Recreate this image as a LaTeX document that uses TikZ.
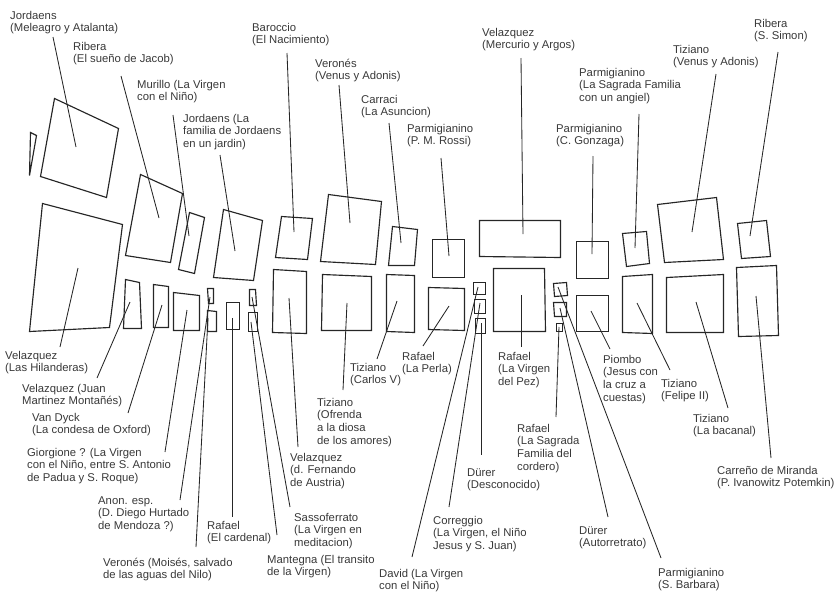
\documentclass[tikz,border=0pt]{standalone}
\usepackage{fontspec}
\setmainfont{Liberation Sans}
\definecolor{ink}{HTML}{262626}
\definecolor{txt}{HTML}{383838}
\begin{document}
\begin{tikzpicture}[x=1pt,y=-1pt,
  paint/.style={draw=ink, line width=1.15pt, line join=miter, shift={(0.5,0.5)}},
  leader/.style={draw=ink, line width=0.85pt, shift={(0.5,0.5)}},
  lbl/.style={anchor=north west, inner sep=0pt, align=left, text=txt,
              font=\fontsize{11.3}{12.8}\selectfont}]
\useasboundingbox (0,0) rectangle (835,592);

% ---------- paintings, upper row ----------
\draw[paint] (54,98) -- (118,128) -- (106,197) -- (40,176) -- cycle;      % A
\draw[paint] (30,132) -- (36,135) -- (29,175) -- cycle;                   % sliver
\draw[paint] (140,174) -- (182,193) -- (170,262) -- (125,255) -- cycle;   % B
\draw[paint] (189,212) -- (204,217) -- (194,273) -- (178,269) -- cycle;   % C
\draw[paint] (223,209) -- (262,220) -- (253,280) -- (213,277) -- cycle;   % D
\draw[paint] (281,216) -- (312,218) -- (307,259) -- (275,257) -- cycle;   % E
\draw[paint] (328,194) -- (381,201) -- (375,264) -- (320,261) -- cycle;   % F
\draw[paint] (392,226) -- (417,229) -- (414,265) -- (388,265) -- cycle;   % G
\draw[paint] (432,239) -- (464,239) -- (464,277) -- (432,277) -- cycle;   % H
\draw[paint] (479,220) -- (560,220) -- (560,257) -- (479,256) -- cycle;   % I
\draw[paint] (576,241) -- (608,241) -- (608,278) -- (576,278) -- cycle;   % J
\draw[paint] (622,233) -- (646,231) -- (649,263) -- (626,266) -- cycle;   % K
\draw[paint] (657,204) -- (716,197) -- (723,259) -- (664,262) -- cycle;   % L
\draw[paint] (737,223) -- (766,220) -- (770,256) -- (741,258) -- cycle;   % M

% ---------- paintings, lower row ----------
\draw[paint] (42,203) -- (122,224) -- (109,327) -- (29,331) -- cycle;     % N
\draw[paint] (125,279) -- (139,282) -- (141,328) -- (123,328) -- cycle;   % O
\draw[paint] (153,284) -- (168,286) -- (168,327) -- (153,327) -- cycle;   % P
\draw[paint] (173,292) -- (199,295) -- (199,330) -- (173,330) -- cycle;   % Q
\draw[paint] (207,288) -- (213,288) -- (213,303) -- (208,303) -- cycle;   % R1
\draw[paint] (207,310) -- (216,311) -- (216,331) -- (207,331) -- cycle;   % R2
\draw[paint] (226,302) -- (239,302) -- (239,329) -- (226,329) -- cycle;   % S
\draw[paint] (249,289) -- (255,289) -- (256,305) -- (249,305) -- cycle;   % U1
\draw[paint] (248,312) -- (257,312) -- (257,331) -- (248,331) -- cycle;   % U2
\draw[paint] (273,269) -- (306,271) -- (306,333) -- (272,332) -- cycle;   % V
\draw[paint] (322,274) -- (371,276) -- (371,330) -- (321,330) -- cycle;   % W
\draw[paint] (386,274) -- (414,275) -- (414,332) -- (386,331) -- cycle;   % X
\draw[paint] (428,287) -- (464,288) -- (464,330) -- (428,329) -- cycle;   % Y
\draw[paint] (473,282) -- (485,282) -- (485,294) -- (473,294) -- cycle;   % Z1
\draw[paint] (474,299) -- (485,299) -- (485,313) -- (474,313) -- cycle;   % Z2
\draw[paint] (475,318) -- (485,318) -- (485,333) -- (475,333) -- cycle;   % Z3
\draw[paint] (493,268) -- (544,268) -- (545,331) -- (493,331) -- cycle;   % AA
\draw[paint] (553,283) -- (566,282) -- (567,295) -- (554,296) -- cycle;   % BB1
\draw[paint] (553,302) -- (566,302) -- (566,316) -- (554,316) -- cycle;   % BB2
\draw[paint] (556,323) -- (562,323) -- (562,331) -- (556,331) -- cycle;   % BB3
\draw[paint] (576,295) -- (608,295) -- (608,331) -- (576,331) -- cycle;   % CC
\draw[paint] (622,276) -- (652,274) -- (652,333) -- (622,332) -- cycle;   % DD
\draw[paint] (666,277) -- (723,274) -- (723,332) -- (666,332) -- cycle;   % EE
\draw[paint] (736,267) -- (776,265) -- (778,335) -- (738,336) -- cycle;   % FF

% ---------- labels ----------
\node[lbl] (tA) at (10,10) {\strut Jordaens\\(Meleagro y Atalanta)};
\node[lbl] (tB) at (73,41) {\strut Ribera\\(El sueño de Jacob)};
\node[lbl] (tC) at (137,79) {\strut Murillo (La Virgen\\con el Niño)};
\node[lbl] (tD) at (183,113) {\strut Jordaens (La\\familia de Jordaens\\en un jardin)};
\node[lbl] (tE) at (252,22) {\strut Baroccio\\(El Nacimiento)};
\node[lbl] (tF) at (315,58) {\strut Veronés\\(Venus y Adonis)};
\node[lbl] (tG) at (361,94) {\strut Carraci\\(La Asuncion)};
\node[lbl] (tH) at (407,123) {\strut Parmigianino\\(P. M. Rossi)};
\node[lbl] (tI) at (482,27) {\strut Velazquez\\(Mercurio y Argos)};
\node[lbl] (tK) at (579,67) {\strut Parmigianino\\(La Sagrada Familia\\con un angiel)};
\node[lbl] (tJ) at (556,123) {\strut Parmigianino\\(C. Gonzaga)};
\node[lbl] (tL) at (673,44) {\strut Tiziano\\(Venus y Adonis)};
\node[lbl] (tM) at (754,18) {\strut Ribera\\(S. Simon)};

\node[lbl] (tN) at (5,350) {\strut Velazquez\\(Las Hilanderas)};
\node[lbl] (tO) at (22,383) {\strut Velazquez (Juan\\Martinez Montañés)};
\node[lbl] (tP) at (32,412) {\strut Van Dyck\\(La condesa de Oxford)};
\node[lbl] (tQ) at (27,447) {\strut Giorgione ? (La Virgen\\con el Niño, entre S. Antonio\\de Padua y S. Roque)};
\node[lbl] (tR1) at (98,495) {\strut Anon. esp.\\(D. Diego Hurtado\\de Mendoza ?)};
\node[lbl] (tS) at (207,520) {\strut Rafael\\(El cardenal)};
\node[lbl] (tR2) at (103,557) {\strut Veronés (Moisés, salvado\\de las aguas del Nilo)};
\node[lbl] (tU2) at (267,554) {\strut Mantegna (El transito\\de la Virgen)};
\node[lbl] (tU1) at (294,512) {\strut Sassoferrato\\(La Virgen en\\meditacion)};
\node[lbl] (tV) at (290,452) {\strut Velazquez\\(d. Fernando\\de Austria)};
\node[lbl] (tW) at (317,397) {\strut Tiziano\\(Ofrenda\\a la diosa\\de los amores)};
\node[lbl] (tX) at (350,362) {\strut Tiziano\\(Carlos V)};
\node[lbl] (tY) at (402,351) {\strut Rafael\\(La Perla)};
\node[lbl] (tAA) at (498,351) {\strut Rafael\\(La Virgen\\del Pez)};
\node[lbl] (tZ3) at (467,467) {\strut Dürer\\(Desconocido)};
\node[lbl] (tZ2) at (433,515) {\strut Correggio\\(La Virgen, el Niño\\Jesus y S. Juan)};
\node[lbl] (tZ1) at (379,568) {\strut David (La Virgen\\con el Niño)};
\node[lbl] (tBB3) at (517,423) {\strut Rafael\\(La Sagrada\\Familia del\\cordero)};
\node[lbl] (tCC) at (603,354) {\strut Piombo\\(Jesus con\\la cruz a\\cuestas)};
\node[lbl] (tDD) at (661,378) {\strut Tiziano\\(Felipe II)};
\node[lbl] (tEE) at (693,413) {\strut Tiziano\\(La bacanal)};
\node[lbl] (tFF) at (717,465) {\strut Carreño de Miranda\\(P. Ivanowitz Potemkin)};
\node[lbl] (tBB2) at (579,525) {\strut Dürer\\(Autorretrato)};
\node[lbl] (tBB1) at (658,567) {\strut Parmigianino\\(S. Barbara)};

% ---------- leader end points ----------
\coordinate (pA) at (76,147);   \coordinate (qA) at (53,37);
\coordinate (pB) at (159,218);  \coordinate (qB) at (121,76);
\coordinate (pC) at (189,236);  \coordinate (qC) at (173,115);
\coordinate (pD) at (235,251);  \coordinate (qD) at (220,155);
\coordinate (pE) at (294,232);  \coordinate (qE) at (287,53);
\coordinate (pF) at (350,223);  \coordinate (qF) at (339,85);
\coordinate (pG) at (401,243);  \coordinate (qG) at (389,123);
\coordinate (pH) at (449,256);  \coordinate (qH) at (441,158);
\coordinate (pI) at (523,234);  \coordinate (qI) at (521,58);
\coordinate (pJ) at (592,254);  \coordinate (qJ) at (593,156);
\coordinate (pK) at (635,248);  \coordinate (qK) at (639,114);
\coordinate (pL) at (692,232);  \coordinate (qL) at (716,74);
\coordinate (pM) at (750,236);  \coordinate (qM) at (778,52);
\coordinate (pN) at (78,268);   \coordinate (qN) at (60,347);
\coordinate (pO) at (130,302);  \coordinate (qO) at (97,378);
\coordinate (pP) at (162,305);  \coordinate (qP) at (128,413);
\coordinate (pQ) at (187,310);  \coordinate (qQ) at (165,452);
\coordinate (pR1) at (210,297); \coordinate (qR1) at (180,500);
\coordinate (pR2) at (208,318); \coordinate (qR2) at (196,547);
\coordinate (pS) at (232,318);  \coordinate (qS) at (232,517);
\coordinate (pU1) at (252,297); \coordinate (qU1) at (290,507);
\coordinate (pU2) at (251,322); \coordinate (qU2) at (277,535);
\coordinate (pV) at (289,298);  \coordinate (qV) at (298,447);
\coordinate (pW) at (347,303);  \coordinate (qW) at (343,390);
\coordinate (pX) at (397,301);  \coordinate (qX) at (377,359);
\coordinate (pY) at (449,306);  \coordinate (qY) at (423,346);
\coordinate (pZ1) at (478,287); \coordinate (qZ1) at (412,557);
\coordinate (pZ2) at (480,303); \coordinate (qZ2) at (449,507);
\coordinate (pZ3) at (481,323); \coordinate (qZ3) at (481,455);
\coordinate (pAA) at (521,295); \coordinate (qAA) at (521,347);
\coordinate (pBB1) at (558,287); \coordinate (qBB1) at (661,558);
\coordinate (pBB2) at (560,308); \coordinate (qBB2) at (608,517);
\coordinate (pBB3) at (559,327); \coordinate (qBB3) at (556,417);
\coordinate (pCC) at (591,311); \coordinate (qCC) at (610,349);
\coordinate (pDD) at (637,303); \coordinate (qDD) at (670,370);
\coordinate (pEE) at (696,302); \coordinate (qEE) at (728,408);
\coordinate (pFF) at (756,296); \coordinate (qFF) at (771,458);

\foreach \k in {A,B,C,D,E,F,G,H,I,J,K,L,M,N,O,P,Q,R1,R2,S,U1,U2,V,W,X,Y,Z1,Z2,Z3,AA,BB1,BB2,BB3,CC,DD,EE,FF}
  \draw[leader] (p\k) -- (q\k);
\end{tikzpicture}
\end{document}
